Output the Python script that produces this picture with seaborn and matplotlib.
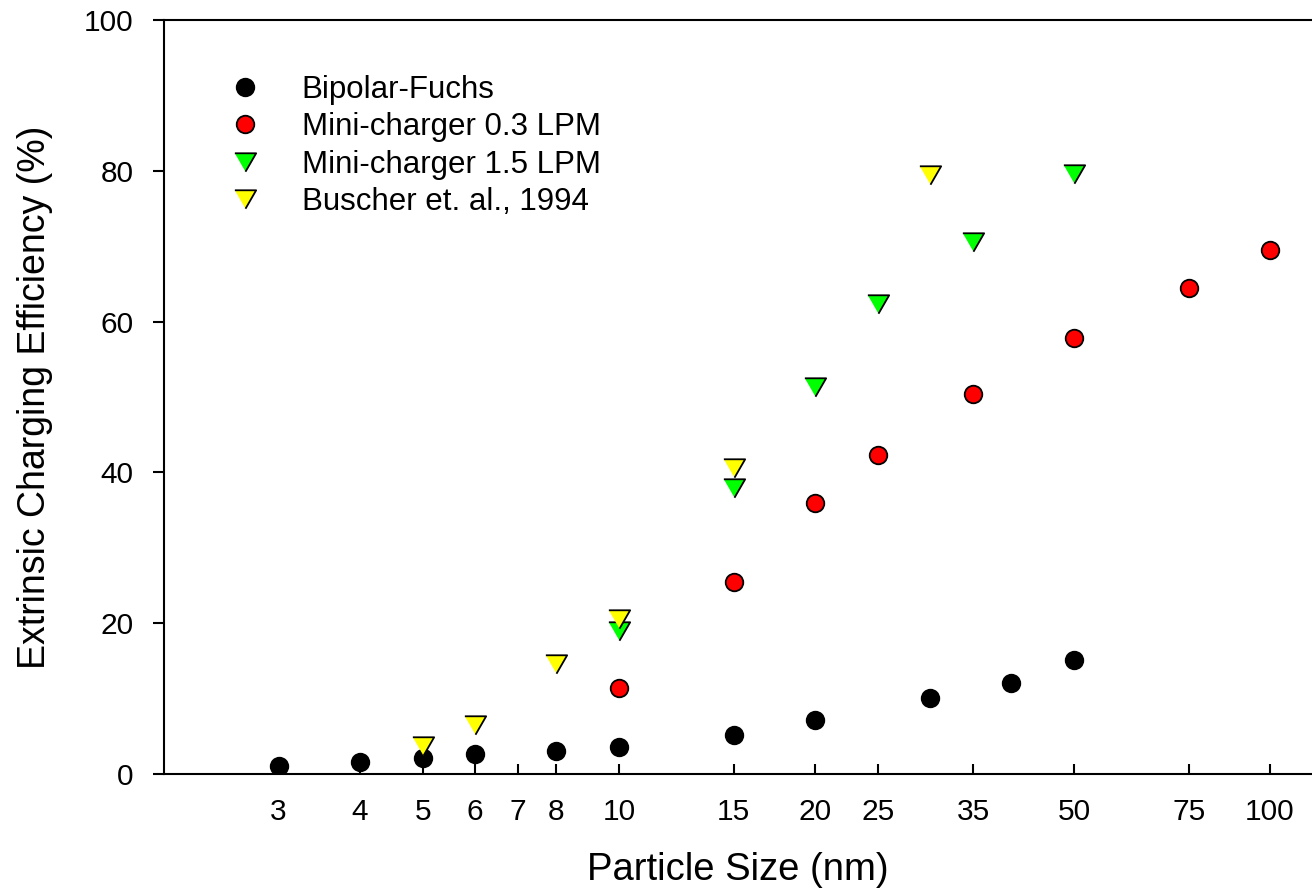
import numpy as np
import pandas as pd
import matplotlib
matplotlib.use("Agg")
import matplotlib.pyplot as plt
import seaborn as sns

# Data
bipolar_x = [3, 4, 5, 6, 8, 10, 15, 20, 30, 40, 50]
bipolar_y = [1.1, 1.55, 2.1, 2.65, 3.1, 3.6, 5.2, 7.2, 10.1, 12.1, 15.1]

mini03_x = [10, 15, 20, 25, 35, 50, 75, 100]
mini03_y = [11.4, 25.4, 36.0, 42.3, 50.4, 57.8, 64.5, 69.5]

mini15_x = [10, 15, 20, 25, 35, 50]
mini15_y = [18.9, 37.9, 51.3, 62.3, 70.5, 79.6]

buscher_x = [5, 6, 8, 10, 15, 30]
buscher_y = [3.75, 6.5, 14.6, 20.6, 40.6, 79.5]

labels = ["Bipolar-Fuchs", "Mini-charger 0.3 LPM", "Mini-charger 1.5 LPM", "Buscher et. al., 1994"]
xticks = [3, 4, 5, 6, 7, 8, 10, 15, 20, 25, 35, 50, 75, 100]
yticks = [0, 20, 40, 60, 80, 100]

sns.set_style("white")
plt.rcParams['font.family'] = ['Liberation Sans', 'DejaVu Sans']
plt.rcParams['text.color'] = 'black'
plt.rcParams['axes.labelcolor'] = 'black'

fig = plt.figure(figsize=(13.12, 8.88), dpi=100)
ax = fig.add_axes([164/1312, 1 - 774/888, 1 - 164/1312, (774 - 20)/888])

tri = [(-1, 0.866), (1, 0.866), (0, -0.866)]

series = [
    (bipolar_x, bipolar_y, labels[0], "black", "o", 160),
    (mini03_x, mini03_y, labels[1], "#ff0000", "o", 160),
    (mini15_x, mini15_y, labels[2], "#00ff00", tri, 235),
    (buscher_x, buscher_y, labels[3], "#ffff00", tri, 235),
]
for i, (xs, ys, lab, col, mk, s) in enumerate(series):
    df = pd.DataFrame({"x": xs, "y": ys})
    sns.scatterplot(data=df, x="x", y="y", ax=ax, color=col, marker=mk, s=s,
                    edgecolor="black", linewidth=1.3, label=lab, zorder=3 + i)

ax.set_xscale("log")
ax.set_xlim(2.0, 116)
ax.set_ylim(0, 100)
ax.set_xticks(xticks)
ax.set_xticklabels([str(t) for t in xticks])
ax.xaxis.set_minor_locator(matplotlib.ticker.NullLocator())
ax.set_yticks(yticks)
ax.set_yticklabels([str(t) for t in yticks])

for side in ["left", "bottom", "top"]:
    ax.spines[side].set_visible(True)
    ax.spines[side].set_color("black")
    ax.spines[side].set_linewidth(1.5)
ax.spines["right"].set_visible(False)

ax.tick_params(axis="x", direction="in", length=7.5, width=1.5, pad=17,
               labelsize=21.5, colors="black", bottom=True, top=False)
ax.tick_params(axis="y", direction="out", length=8, width=1.5, pad=14,
               labelsize=21.5, colors="black", left=True, right=False)

ax.set_xlabel("Particle Size (nm)", fontsize=27.5, labelpad=19, color="black")
ax.set_ylabel("Extrinsic Charging Efficiency (%)", fontsize=27, labelpad=22, color="black")

leg = ax.legend(loc="center left", bbox_to_anchor=(0.0436, 0.833), frameon=False,
                fontsize=22.5, handletextpad=0.8, handlelength=2.0, labelspacing=0.24,
                borderpad=0, borderaxespad=0, scatteryoffsets=[0.5])
for t in leg.get_texts():
    t.set_color("black")
ax.grid(False)

fig.savefig("out.png", dpi=100)
